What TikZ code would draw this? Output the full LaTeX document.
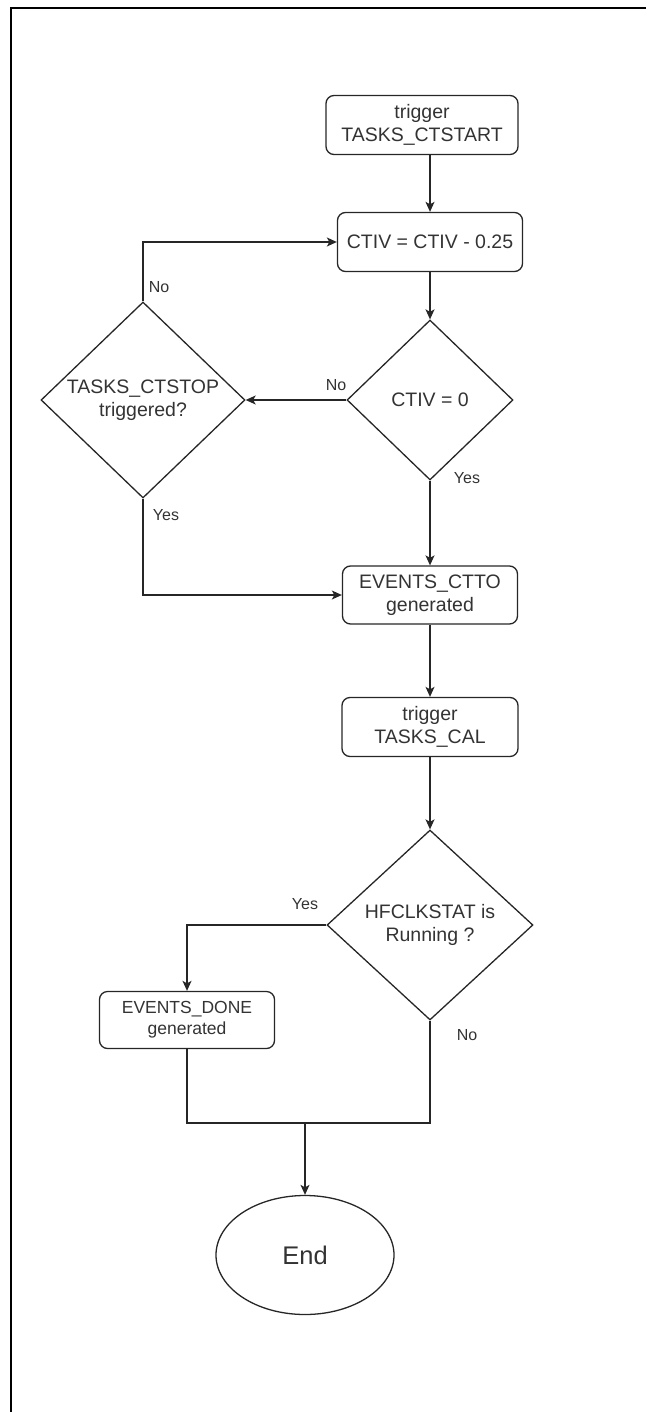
\documentclass[tikz,border=0pt]{standalone}
\usepackage{fontspec}
\setmainfont{Liberation Sans}
\usepackage{tikz}
\usetikzlibrary{arrows.meta,shapes.geometric}

\definecolor{txtgray}{HTML}{333333}

\begin{document}
\begin{tikzpicture}[x=1pt,y=-1pt,
        every node/.style={text=txtgray,inner sep=0pt},
        stepbox/.style={draw=black!85,line width=1.3pt,rounded corners=8pt,align=center,
                        font=\fontsize{19.5}{22.5}\selectfont},
        decision/.style={draw=black!85,line width=1.3pt,diamond},
        dtext/.style={align=center,font=\fontsize{19.5}{22.5}\selectfont},
        lbl/.style={font=\fontsize{16}{18}\selectfont},
        arr/.style={draw=black!85,line width=1.3pt,-{Stealth[length=10pt,width=9pt,inset=2.5pt]}},
        conn/.style={draw=black!85,line width=1.3pt}]
                \useasboundingbox (0,0) rectangle (646,1412);
                \draw[line width=2pt] (11,1412) -- (11,8) -- (646,8);

                \node[stepbox,minimum width=192pt,minimum height=59pt] (ctstart) at (422,125) {trigger\\TASKS\_CTSTART};
                \node[stepbox,minimum width=185pt,minimum height=59pt] (ctiv) at (430,242) {CTIV = CTIV - 0.25};
                \node[decision,minimum width=166pt,minimum height=160pt,
                      label={[dtext]center:CTIV = 0}] (ctivzero) at (430,400) {};
                \node[decision,minimum width=204pt,minimum height=196pt,
                      label={[dtext]center:TASKS\_CTSTOP\\triggered?}] (ctstop) at (143,400) {};
                \node[stepbox,minimum width=175pt,minimum height=58pt] (ctto) at (430,595) {EVENTS\_CTTO\\generated};
                \node[stepbox,minimum width=176pt,minimum height=59pt] (cal) at (430,727) {trigger\\TASKS\_CAL};
                \node[decision,minimum width=206pt,minimum height=190pt,
                      label={[dtext]center:HFCLKSTAT is\\Running ?}] (hfclk) at (430,925) {};
                \node[stepbox,minimum width=175pt,minimum height=57pt,
                      font=\fontsize{17.5}{21}\selectfont] (done) at (187,1020) {EVENTS\_DONE\\generated};
                \node[draw=black!85,line width=1.3pt,ellipse,minimum width=178pt,minimum height=119pt,
                      font=\fontsize{25.5}{28}\selectfont] (endnode) at (305,1255) {End};
                \coordinate (merge) at (305,1123);

                \node[lbl] (nostop) at (336,385) {No};
                \node[lbl] (noloop) at (159,287) {No};
                \node[lbl] (yeszero) at (467,478) {Yes};
                \node[lbl] (yesstop) at (166,515) {Yes};
                \node[lbl] (yesrun) at (305,904) {Yes};
                \node[lbl] (norun) at (467,1035) {No};

                \draw[arr] (ctstart.south -| ctiv.north) -- (ctiv.north);
                \draw[arr] (ctiv.south) -- (ctivzero.north);
                \draw[arr] (ctivzero.west) -- (ctstop.east);
                \draw[arr] (ctstop.north) |- (ctiv.west);
                \draw[arr] (ctstop.south) |- (ctto.west);
                \draw[arr] (ctivzero.south) -- (ctto.north);
                \draw[arr] (ctto.south) -- (cal.north);
                \draw[arr] (cal.south) -- (hfclk.north);
                \draw[arr] (hfclk.west) -| (done.north);
                \draw[conn] (done.south) |- (merge) -| (hfclk.south);
                \draw[arr] (merge) -- (endnode.north);
            \end{tikzpicture}
\end{document}
